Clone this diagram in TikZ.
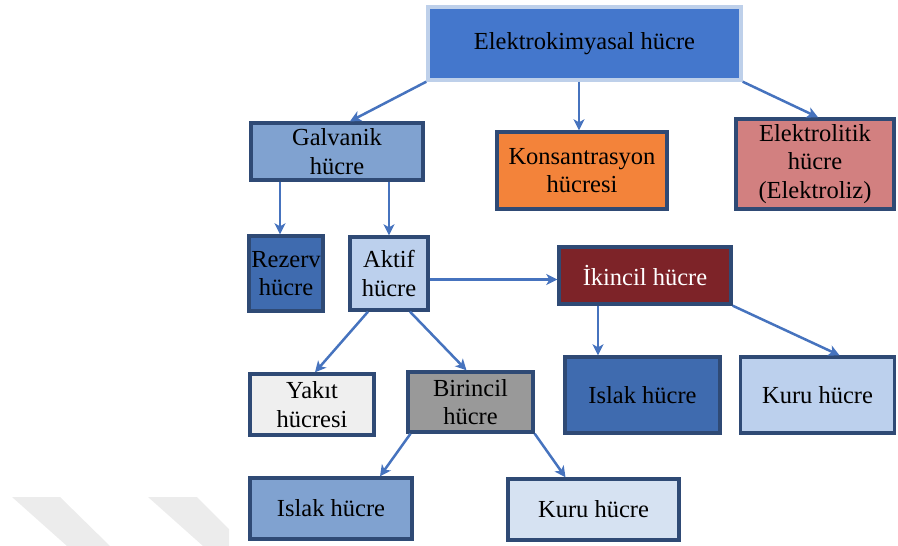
\documentclass[tikz,border=0pt]{standalone}
\usepackage{fontspec}
\setmainfont{Liberation Serif}
\usetikzlibrary{arrows.meta}
\definecolor{elkblue}{RGB}{68,119,204}
\definecolor{elkline}{RGB}{190,208,234}
\definecolor{boxline}{RGB}{47,74,117}
\definecolor{galvblue}{RGB}{128,162,208}
\definecolor{konsorange}{RGB}{243,131,58}
\definecolor{elizrose}{RGB}{210,128,128}
\definecolor{rezblue}{RGB}{63,107,175}
\definecolor{aktifblue}{RGB}{188,208,237}
\definecolor{ikinred}{RGB}{125,35,40}
\definecolor{yakgray}{RGB}{239,239,239}
\definecolor{birgray}{RGB}{153,153,153}
\definecolor{kurublue}{RGB}{214,226,242}
\definecolor{arrowblue}{RGB}{70,115,190}
\definecolor{markgray}{RGB}{236,236,236}

\begin{document}
\begin{tikzpicture}[x=1pt, y=-1pt,
    box/.style={draw=boxline, line width=3.4pt, align=center, inner sep=2pt,
                font=\fontsize{24.5}{28.5}\selectfont},
    arr/.style={draw=arrowblue, line width=2.5pt,
                -{Stealth[length=11pt, width=11pt, inset=3pt]}}]
				\useasboundingbox (0,0) rectangle (898,546);
				
				% Faint marks in the corner
				\fill[markgray] (12,497) -- (60,497) -- (110,546) -- (67,546) -- cycle;
				\begin{scope}
					\clip (0,0) rectangle (229,546);
					\fill[markgray] (148,497) -- (197,497) -- (246,546) -- (203,546) -- cycle;
				\end{scope}
				
				% Draw the boxes
				\node[box, fill=elkblue, draw=elkline, minimum width=313pt, minimum height=73pt] (elk) at (584.5,43.5) {Elektrokimyasal hücre};
				\node[box, fill=galvblue, minimum width=172pt, minimum height=57pt] (galv) at (337,151.5) {Galvanik\\hücre};
				\node[box, fill=konsorange, minimum width=170pt, minimum height=77pt] (kons) at (582,170.5) {Konsantrasyon\\hücresi};
				\node[box, fill=elizrose, minimum width=158pt, minimum height=90pt] (eliz) at (815,164) {Elektrolitik\\hücre\\(Elektroliz)};
				\node[box, fill=rezblue, minimum width=74pt, minimum height=75pt, inner sep=0pt] (rez) at (286,273.5) {Rezerv\\hücre};
				\node[box, fill=aktifblue, minimum width=78pt, minimum height=73pt] (aktif) at (389,273.5) {Aktif\\hücre};
				\node[box, fill=ikinred, text=white, minimum width=172pt, minimum height=57pt] (ikin) at (645,275.5) {İkincil hücre};
				\node[box, fill=yakgray, minimum width=124pt, minimum height=61pt] (yak) at (312,404.5) {Yakıt\\hücresi};
				\node[box, fill=birgray, minimum width=125pt, minimum height=60pt] (bir) at (470.5,402) {Birincil\\hücre};
				\node[box, fill=rezblue, minimum width=155pt, minimum height=76pt] (islR) at (642.5,395) {Islak hücre};
				\node[box, fill=aktifblue, minimum width=154pt, minimum height=76pt] (kuruR) at (817.5,395) {Kuru hücre};
				\node[box, fill=galvblue, minimum width=162pt, minimum height=61pt] (islB) at (331,508.5) {Islak hücre};
				\node[box, fill=kurublue, minimum width=171pt, minimum height=61pt] (kuruB) at (593.5,509.5) {Kuru hücre};
				
				% Draw the arrows
				\draw[arr] (elk.south west) -- ([xshift=13pt]galv.north);
				\draw[arr] ([xshift=-3pt]kons.north |- elk.south) -- ([xshift=-3pt]kons.north);
				\draw[arr] (elk.south east) -- ([xshift=3pt]eliz.north);
				\draw[arr] ([xshift=-6pt]rez.north |- galv.south) -- ([xshift=-6pt]rez.north);
				\draw[arr] (aktif.north |- galv.south) -- (aktif.north);
				\draw[arr] ([yshift=-4pt]aktif.east |- ikin.west) -- ([yshift=-4pt]ikin.west);
				\draw[arr] ([xshift=-21pt]aktif.south) -- ([xshift=3pt]yak.north);
				\draw[arr] ([xshift=21pt]aktif.south) -- ([xshift=-4pt]bir.north);
				\draw[arr] ([xshift=-47pt]ikin.south) -- ([xshift=-47pt]ikin.south |- islR.north);
				\draw[arr] (ikin.south east) -- ([xshift=22pt]kuruR.north);
				\draw[arr] ([xshift=-60pt]bir.south) -- ([xshift=49pt]islB.north);
				\draw[arr] (bir.south east) -- ([xshift=-28pt]kuruB.north);
			\end{tikzpicture}
\end{document}
